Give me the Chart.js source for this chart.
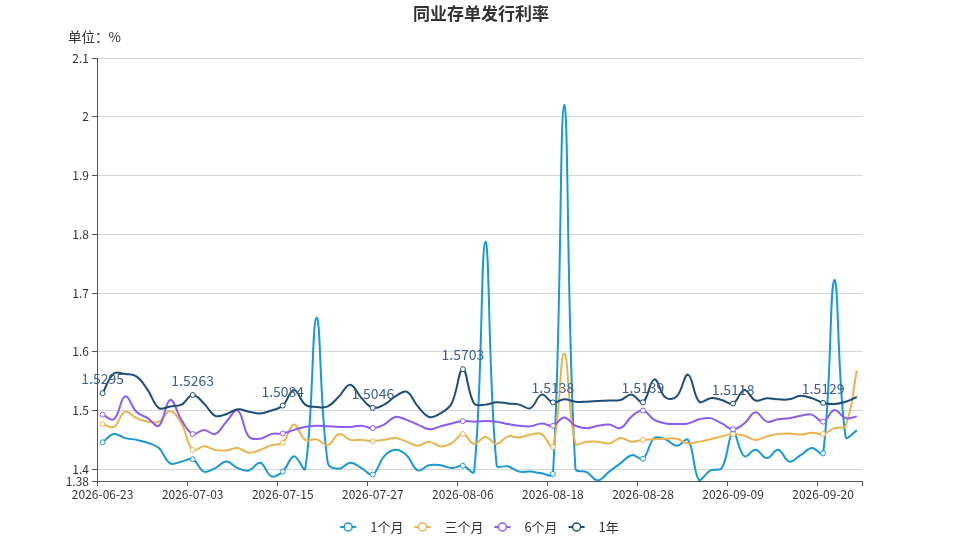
<!DOCTYPE html>
<html>
<head>
<meta charset="utf-8">
<script src="https://cdn.jsdelivr.net/npm/chart.js@4.4.1/dist/chart.umd.min.js"></script>
<style>
  html, body { margin: 0; padding: 0; background: #fff; }
  canvas { display: block; }
</style>
</head>
<body>
<canvas id="chart" width="959" height="540"></canvas>
<script>
const dates = [
  '2026-06-23','2026-06-24','2026-06-25','2026-06-26','2026-06-29','2026-06-30','2026-07-01','2026-07-02',
  '2026-07-03','2026-07-06','2026-07-07','2026-07-08','2026-07-09','2026-07-10','2026-07-13','2026-07-14',
  '2026-07-15','2026-07-16','2026-07-17','2026-07-20','2026-07-21','2026-07-22','2026-07-23','2026-07-24',
  '2026-07-27','2026-07-28','2026-07-29','2026-07-30','2026-07-31','2026-08-03','2026-08-04','2026-08-05',
  '2026-08-06','2026-08-07','2026-08-10','2026-08-11','2026-08-12','2026-08-13','2026-08-14','2026-08-17',
  '2026-08-18','2026-08-19','2026-08-20','2026-08-21','2026-08-24','2026-08-25','2026-08-26','2026-08-27',
  '2026-08-28','2026-08-31','2026-09-01','2026-09-02','2026-09-03','2026-09-04','2026-09-07','2026-09-08',
  '2026-09-09','2026-09-10','2026-09-11','2026-09-14','2026-09-15','2026-09-16','2026-09-17','2026-09-18',
  '2026-09-20','2026-09-21','2026-09-22','2026-09-23'
];

const oneMonth = [
  1.446, 1.460, 1.453, 1.450, 1.445, 1.436, 1.410, 1.413,
  1.417, 1.396, 1.402, 1.413, 1.402, 1.398, 1.411, 1.388,
  1.396, 1.422, 1.401, 1.658, 1.411, 1.401, 1.411, 1.402,
  1.391, 1.422, 1.433, 1.424, 1.398, 1.407, 1.407, 1.402,
  1.406, 1.396, 1.787, 1.407, 1.405, 1.396, 1.396, 1.393,
  1.392, 2.020, 1.401, 1.395, 1.381, 1.396, 1.410, 1.424,
  1.418, 1.453, 1.451, 1.440, 1.450, 1.381, 1.398, 1.402,
  1.462, 1.422, 1.433, 1.419, 1.433, 1.413, 1.424, 1.436,
  1.427, 1.722, 1.455, 1.466
];

const threeMonth = [
  1.477, 1.472, 1.498, 1.487, 1.481, 1.481, 1.499, 1.478,
  1.433, 1.439, 1.433, 1.432, 1.436, 1.428, 1.433, 1.441,
  1.445, 1.476, 1.450, 1.451, 1.441, 1.460, 1.450, 1.450,
  1.448, 1.450, 1.453, 1.447, 1.440, 1.447, 1.439, 1.444,
  1.460, 1.443, 1.455, 1.443, 1.456, 1.454, 1.459, 1.460,
  1.438, 1.597, 1.444, 1.447, 1.447, 1.444, 1.453, 1.447,
  1.450, 1.451, 1.452, 1.452, 1.444, 1.447, 1.451, 1.456,
  1.460, 1.457, 1.450, 1.456, 1.460, 1.461, 1.459, 1.462,
  1.460, 1.470, 1.474, 1.568
];

const sixMonth = [
  1.493, 1.485, 1.524, 1.498, 1.487, 1.474, 1.518, 1.484,
  1.460, 1.467, 1.460, 1.481, 1.500, 1.455, 1.452, 1.460,
  1.461, 1.467, 1.472, 1.474, 1.473, 1.472, 1.472, 1.474,
  1.470, 1.476, 1.489, 1.484, 1.476, 1.468, 1.473, 1.478,
  1.482, 1.481, 1.482, 1.481, 1.477, 1.474, 1.473, 1.478,
  1.474, 1.488, 1.474, 1.470, 1.474, 1.476, 1.470, 1.490,
  1.500, 1.484, 1.478, 1.477, 1.478, 1.485, 1.487, 1.478,
  1.468, 1.478, 1.497, 1.481, 1.485, 1.487, 1.491, 1.493,
  1.481, 1.501, 1.487, 1.490
];

const oneYear = [
  1.5295, 1.563, 1.562, 1.558, 1.535, 1.504, 1.507, 1.510,
  1.5263, 1.512, 1.491, 1.494, 1.502, 1.498, 1.495, 1.500,
  1.5084, 1.535, 1.510, 1.506, 1.507, 1.524, 1.544, 1.521,
  1.5046, 1.510, 1.524, 1.532, 1.507, 1.489, 1.495, 1.512,
  1.5703, 1.512, 1.510, 1.514, 1.512, 1.510, 1.504, 1.527,
  1.5138, 1.519, 1.515, 1.515, 1.516, 1.517, 1.518, 1.527,
  1.5139, 1.553, 1.522, 1.524, 1.561, 1.515, 1.521, 1.518,
  1.5118, 1.535, 1.517, 1.521, 1.519, 1.519, 1.525, 1.521,
  1.5129, 1.511, 1.515, 1.523
];

const yTicks = [1.38, 1.4, 1.5, 1.6, 1.7, 1.8, 1.9, 2, 2.1];
const seriesNames = ['1个月', '三个月', '6个月', '1年'];
const seriesColors = ['#1a98d0', '#e9b350', '#8c5cf0', '#1e4d78'];

const FONT = '"Noto Sans CJK SC", "Noto Sans", sans-serif';
const LABEL_EVERY = 8;

Chart.defaults.font.family = FONT;
Chart.defaults.color = '#333';

function makeDataset(name, values, color, order) {
  return {
    label: name,
    data: values,
    borderColor: color,
    backgroundColor: color,
    borderWidth: 2,
    tension: 0.4,
    order: order,
    pointRadius: ctx => (ctx.dataIndex % LABEL_EVERY === 0 ? 2.5 : 0),
    pointHoverRadius: 0,
    pointBackgroundColor: '#fff',
    pointBorderColor: color,
    pointBorderWidth: 1
  };
}

// title, unit, value labels on 1年 and the legend
const overlay = {
  id: 'overlay',
  afterDatasetsDraw(chart) {
    const ctx = chart.ctx;
    const meta = chart.getDatasetMeta(3);
    ctx.save();
    ctx.font = '14px ' + FONT;
    ctx.fillStyle = '#3d5f8c';
    ctx.textAlign = 'center';
    ctx.textBaseline = 'alphabetic';
    meta.data.forEach((pt, i) => {
      if (i % LABEL_EVERY !== 0) return;
      ctx.fillText(oneYear[i].toFixed(4), pt.x, pt.y - 9);
    });
    ctx.restore();
  },
  afterDraw(chart) {
    const ctx = chart.ctx;
    ctx.save();
    ctx.fillStyle = '#333';
    ctx.textBaseline = 'middle';
    ctx.font = 'bold 17px ' + FONT;
    ctx.textAlign = 'center';
    ctx.fillText('同业存单发行利率', 481, 14);

    ctx.font = '13.5px ' + FONT;
    ctx.textAlign = 'left';
    ctx.fillText('单位：%', 68, 37);

    // legend
    ctx.font = '13px ' + FONT;
    const iconW = 16, textGap = 14, itemGap = 11;
    const widths = seriesNames.map(n => iconW + textGap + ctx.measureText(n).width);
    const total = widths.reduce((a, b) => a + b, 0) + itemGap * (seriesNames.length - 1);
    let x = 479.5 - total / 2;
    const y = 527;
    seriesNames.forEach((name, i) => {
      const c = seriesColors[i];
      ctx.strokeStyle = c;
      ctx.lineWidth = 2;
      ctx.beginPath();
      ctx.moveTo(x, y);
      ctx.lineTo(x + iconW, y);
      ctx.stroke();
      ctx.beginPath();
      ctx.arc(x + iconW / 2, y, 4, 0, Math.PI * 2);
      ctx.fillStyle = '#fff';
      ctx.fill();
      ctx.lineWidth = 1.5;
      ctx.stroke();
      ctx.fillStyle = '#333';
      ctx.fillText(name, x + iconW + textGap, y);
      x += widths[i] + itemGap;
    });
    ctx.restore();
  }
};

new Chart(document.getElementById('chart'), {
  type: 'line',
  data: {
    labels: dates,
    datasets: [
      makeDataset(seriesNames[0], oneMonth, seriesColors[0], 4),
      makeDataset(seriesNames[1], threeMonth, seriesColors[1], 3),
      makeDataset(seriesNames[2], sixMonth, seriesColors[2], 2),
      makeDataset(seriesNames[3], oneYear, seriesColors[3], 1)
    ]
  },
  options: {
    responsive: false,
    animation: false,
    layout: { padding: { top: 58, right: 96.5, left: 0, bottom: 0 } },
    plugins: {
      legend: { display: false },
      title: { display: false },
      tooltip: { enabled: false }
    },
    scales: {
      x: {
        offset: true,
        afterFit: scale => { scale.height = 59; },
        border: { display: true, color: '#555', width: 1 },
        grid: {
          offset: true,
          drawOnChartArea: false,
          tickLength: 5,
          color: ctx => (ctx.index === undefined || ctx.index % LABEL_EVERY === 0 ? '#555' : 'rgba(0,0,0,0)')
        },
        ticks: {
          autoSkip: false,
          maxRotation: 0,
          minRotation: 0,
          padding: 1,
          color: '#333',
          font: { size: 12 },
          callback: (v, i) => (i % LABEL_EVERY === 0 ? dates[i] : '')
        }
      },
      y: {
        min: 1.38,
        max: 2.1,
        afterFit: scale => { scale.width = 97; },
        afterBuildTicks: scale => { scale.ticks = yTicks.map(v => ({ value: v })); },
        border: { display: true, color: '#555', width: 1 },
        grid: {
          color: '#d6d6d6',
          tickColor: '#555',
          tickLength: 5
        },
        ticks: {
          autoSkip: false,
          padding: 3,
          color: '#333',
          font: { size: 12 },
          callback: v => String(+v.toFixed(2))
        }
      }
    }
  },
  plugins: [overlay]
});
</script>
</body>
</html>
